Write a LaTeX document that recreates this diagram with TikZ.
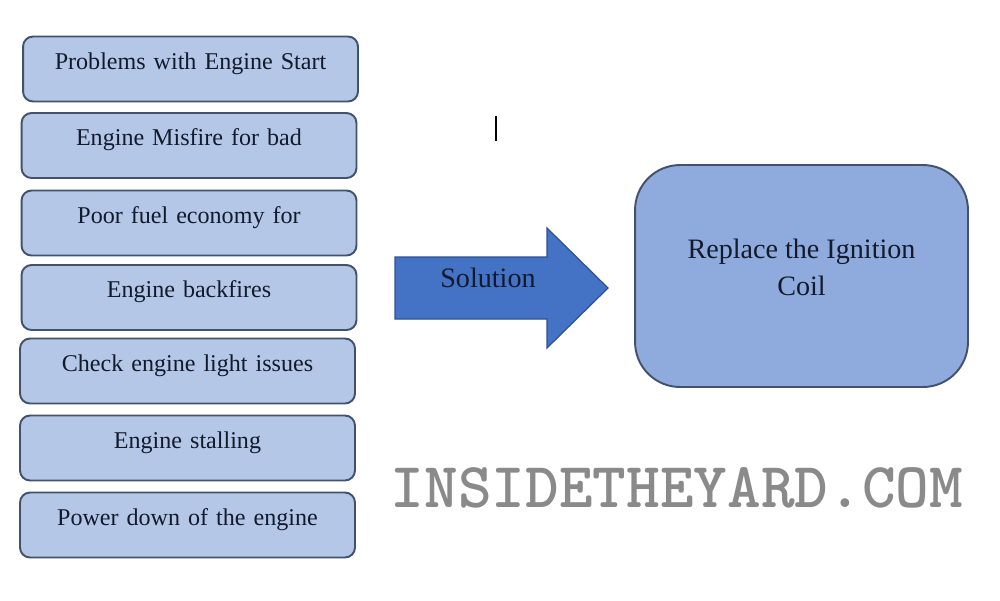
\documentclass[tikz,border=0pt]{standalone}
\usepackage{fontspec}
\setmainfont{Liberation Serif}
\usepackage{tikz}
\usetikzlibrary{calc}
\definecolor{boxblue}{RGB}{180,199,231}
\definecolor{coilblue}{RGB}{143,170,220}
\definecolor{arrowblue}{RGB}{68,114,196}
\definecolor{arrowedge}{RGB}{47,82,143}
\definecolor{edgeblue}{RGB}{66,82,108}
\definecolor{inkblue}{RGB}{18,26,44}
\definecolor{markgray}{RGB}{138,138,138}
\tikzset{
 probbox/.style={draw=edgeblue, line width=1.1pt, fill=boxblue, rounded corners=0.2cm,
   text width=6.7cm, align=center, inner sep=0pt, text height=0.65cm, text depth=0.65cm,
   font=\fontsize{13.7}{17}\selectfont, text=inkblue},
 coilbox/.style={draw=edgeblue, line width=1.1pt, fill=coilblue, rounded corners=0.9cm,
   minimum width=6.66cm, minimum height=4.44cm, inner sep=0pt},
 bigtext/.style={font=\fontsize{16}{21}\selectfont, text=inkblue, align=center, inner sep=0pt},
 arrowshape/.style={draw=arrowedge, line width=0.7pt, fill=arrowblue},
 marktext/.style={font=\ttfamily\bfseries\fontsize{36.5}{36.5}\selectfont, text=markgray, inner sep=0pt}
}
\begin{document}
\begin{tikzpicture}[x=0.02cm, y=-0.02cm]
\useasboundingbox (0,0) rectangle (1000,600);
% list of symptoms
\foreach \n/\x/\y/\t in {1/190.5/69/Problems with Engine Start,
                         2/189/145.5/Engine Misfire for bad,
                         3/189/223/Poor fuel economy for,
                         4/189/297.5/Engine backfires,
                         5/187.5/371/Check engine light issues,
                         6/187.5/448/Engine stalling,
                         7/187.5/525/Power down of the engine} {
 \node[probbox] (p\n) at (\x,\y) {\t};
}
% arrow
\draw[arrowshape] (395,257) -- (547,257) -- (547,228) -- (608,288)
   -- (547,348) -- (547,319) -- (395,319) -- cycle;
\node[bigtext, anchor=base] (sol) at (488,287) {Solution};
% fix
\node[coilbox] (coil) at (801.5,276) {};
\node[bigtext, yshift=0.18cm] (fix) at (coil.center) {Replace the Ignition\\Coil};
% cursor mark
\draw[black, line width=1.1pt] (496,116) -- (496,141);
\node[marktext, anchor=base] (mark) at (677,507) {INSIDETHEYARD.COM};
\end{tikzpicture}
\end{document}
